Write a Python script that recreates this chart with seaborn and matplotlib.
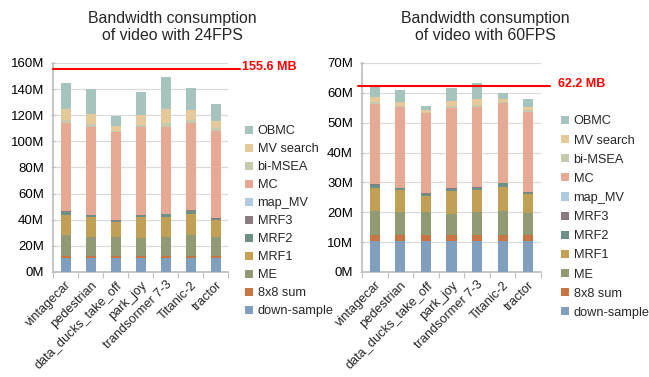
import numpy as np
import pandas as pd
import matplotlib
matplotlib.use("Agg")
import matplotlib.pyplot as plt
import seaborn as sns
from matplotlib.patches import Patch
from matplotlib.ticker import FuncFormatter, MultipleLocator

videos = ["vintagecar", "pedestrian", "data_ducks_take_off", "park_joy",
          "trandsormer 7-3", "Titanic-2", "tractor"]
components = ["down-sample", "8x8 sum", "ME", "MRF1", "MRF2", "MRF3",
              "map_MV", "MC", "bi-MSEA", "MV search", "OBMC"]
colors = ["#809fbd", "#c97443", "#929a74", "#c1a055", "#6e9187", "#8c7b7e",
          "#b1c9e1", "#e6a993", "#c6c9ab", "#e6c99b", "#a6c4bd"]

# cumulative tops (M bytes) per component, 24 FPS
tops_24 = {
    "down-sample": [10.4, 10.4, 10.4, 10.4, 10.4, 10.4, 10.4],
    "8x8 sum":     [12.2, 12.2, 12.2, 12.2, 12.2, 12.2, 12.2],
    "ME":          [28.0, 27.0, 27.0, 26.0, 27.0, 28.0, 26.5],
    "MRF1":        [43.6, 42.0, 38.2, 42.0, 42.3, 44.1, 39.5],
    "MRF2":        [45.9, 43.3, 39.2, 43.3, 44.1, 46.4, 40.8],
    "MRF3":        [46.4, 43.6, 39.5, 43.6, 44.4, 47.1, 41.1],
    "map_MV":      [46.5, 43.7, 39.6, 43.7, 44.5, 47.2, 41.2],
    "MC":          [113.9, 110.8, 107.0, 110.8, 111.3, 114.4, 108.3],
    "bi-MSEA":     [116.2, 113.1, 108.3, 112.9, 114.1, 116.7, 110.1],
    "MV search":   [124.8, 121.3, 111.6, 120.5, 124.8, 124.1, 115.9],
    "OBMC":        [145.0, 139.9, 119.7, 137.8, 149.6, 140.6, 128.4],
}
# cumulative tops (M bytes) per component, 60 FPS
tops_60 = {
    "down-sample": [10.3, 10.3, 10.3, 10.3, 10.3, 10.3, 10.3],
    "8x8 sum":     [12.5, 12.5, 12.5, 12.5, 12.5, 12.5, 12.5],
    "ME":          [20.3, 20.0, 20.0, 19.4, 20.0, 20.3, 19.6],
    "MRF1":        [28.1, 27.4, 25.4, 27.2, 27.4, 28.4, 26.2],
    "MRF2":        [29.2, 28.0, 26.1, 27.8, 28.3, 29.7, 26.6],
    "MRF3":        [29.4, 28.1, 26.3, 28.0, 28.5, 29.8, 26.7],
    "map_MV":      [29.5, 28.2, 26.4, 28.1, 28.6, 29.9, 26.8],
    "MC":          [56.4, 55.1, 53.1, 54.8, 55.3, 56.6, 53.7],
    "bi-MSEA":     [57.0, 55.5, 53.3, 55.5, 56.0, 57.1, 54.2],
    "MV search":   [58.5, 57.1, 54.1, 57.4, 58.1, 58.1, 55.4],
    "OBMC":        [62.0, 60.8, 55.5, 61.5, 63.3, 60.0, 58.1],
}
limits = [155.6, 62.2]
limit_labels = ["155.6 MB", "62.2 MB"]
titles = ["Bandwidth consumption\nof video with 24FPS",
          "Bandwidth consumption\nof video with 60FPS"]

sns.set_theme(style="white")
plt.rcParams["font.family"] = ["Liberation Sans", "DejaVu Sans"]

W, H = 649, 377
fig = plt.figure(figsize=(W / 100, H / 100), dpi=100)

def px_axes(l, t, r, b):
    return fig.add_axes([l / W, 1 - b / H, (r - l) / W, (b - t) / H])

ax1 = px_axes(53, 63, 228, 272)
ax2 = px_axes(362, 63, 541, 272)

specs = [
    (ax1, tops_24, 160, 20, 240, 242, 67, 172),
    (ax2, tops_60, 70, 10, 550, 558, 84, 485),
]

for i, (ax, tops, ymax, step, line_end, text_x, text_y, title_x) in enumerate(specs):
    # draw stacked bars: tallest cumulative first, then overlay lower ones
    for comp, col in zip(reversed(components), reversed(colors)):
        df = pd.DataFrame({"video": videos, "value": tops[comp]})
        sns.barplot(data=df, x="video", y="value", color=col, width=0.4,
                    saturation=1, ax=ax, order=videos, linewidth=0,
                    errorbar=None, zorder=3)
    ax.set_xlim(-0.5, len(videos) - 0.5)
    ax.set_ylim(0, ymax)
    ax.yaxis.set_major_locator(MultipleLocator(step))
    ax.yaxis.set_major_formatter(FuncFormatter(lambda v, p: f"{int(round(v))}M"))
    ax.set_xlabel("")
    ax.set_ylabel("")
    ax.grid(axis="y", color="#d9d9d9", linewidth=0.9, zorder=0)
    ax.set_axisbelow(True)
    for s in ["top", "right"]:
        ax.spines[s].set_visible(False)
    ax.spines["left"].set_color("#bfbfbf")
    ax.spines["bottom"].set_color("#bfbfbf")
    ax.tick_params(axis="y", labelsize=9.5, colors="#000000", length=3,
                   width=0.8, color="#bfbfbf", pad=5, left=True,
                   direction="inout")
    ax.set_xticks(range(len(videos)))
    ax.set_xticklabels(videos, rotation=45, ha="right", rotation_mode="anchor",
                       fontsize=9.2)
    ax.tick_params(axis="x", length=0, pad=5, bottom=True)
    ax.set_xticks(np.arange(-0.5, len(videos), 1.0), minor=True)
    ax.tick_params(axis="x", which="minor", length=4, width=0.8, color="#bfbfbf",
                   bottom=True)

    # red limit line
    bb = ax.get_position()
    x0 = bb.x0 * W
    x1 = bb.x1 * W
    start = 0.0 if i == 0 else (357.5 - x0) / (x1 - x0)
    ax.axhline(limits[i], xmin=start, xmax=(line_end - x0) / (x1 - x0),
               color="#ff0000", linewidth=1.5, clip_on=False, zorder=5)
    fig.text(text_x / W, 1 - text_y / H, limit_labels[i], color="#ff0000",
             fontsize=9, fontweight="bold", va="center", ha="left")

    fig.text(title_x / W, 1 - 27 / H, titles[i], ha="center", va="center",
             fontsize=11.4, linespacing=1.2)

# legends
handles = [Patch(facecolor=c, edgecolor="none", label=n)
           for n, c in zip(reversed(components), reversed(colors))]
leg1 = fig.legend(handles=handles, loc="upper left",
                  bbox_to_anchor=(239 / W, 1 - 119 / H), frameon=False,
                  fontsize=9.2, handlelength=0.6, handleheight=0.6,
                  handletextpad=0.35, labelspacing=0.47, borderpad=0)
leg2 = fig.legend(handles=handles, loc="upper left",
                  bbox_to_anchor=(555 / W, 1 - 109 / H), frameon=False,
                  fontsize=9.2, handlelength=0.6, handleheight=0.6,
                  handletextpad=0.35, labelspacing=0.56, borderpad=0)

fig.savefig("out.png", dpi=100, facecolor="white")
